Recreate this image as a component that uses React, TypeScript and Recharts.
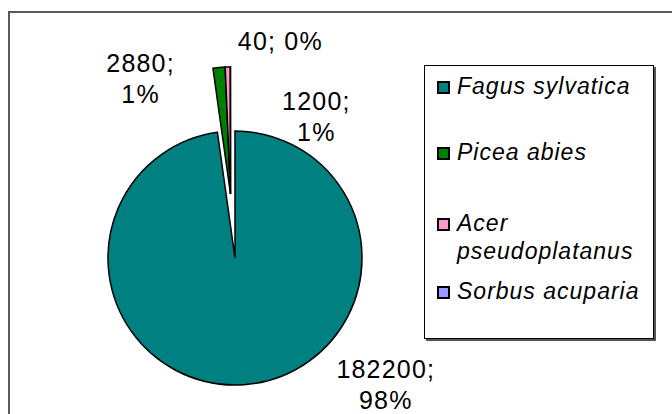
import { Cell, Legend, Pie, PieChart } from "recharts";

const species = ["Fagus sylvatica", "Picea abies", "Acer pseudoplatanus", "Sorbus acuparia"];
const volumes = [182200, 2880, 1200, 40];
const percentLabels = ["98%", "1%", "1%", "0%"];
const colors = ["#008080", "#008000", "#FF99CC", "#9999FF"];

const data = species.map((name, i) => ({ name, value: volumes[i], pct: percentLabels[i] }));

// label placement in polar form around each pie's centre (degrees, radius factor)
const labelPlacement = [
  { angle: -40, r: 1.55, lines: 2 },
  { angle: 128, r: 1.15, lines: 2 },
  { angle: 42, r: 0.91, lines: 2 },
  { angle: 72, r: 1.27, lines: 1 },
];

const legendRows = [22, 88, 159, 227];

const FONT = '"Liberation Sans", Arial, sans-serif';
const RADIAN = Math.PI / 180;
const LINE_H = 31;

function makeLabel(visible: (i: number) => boolean) {
  return (props: any) => {
    const { cx, cy, outerRadius, index, value, payload } = props;
    if (!visible(index)) return <g />;
    const p = labelPlacement[index];
    const x = cx + outerRadius * p.r * Math.cos(p.angle * RADIAN);
    const y = cy - outerRadius * p.r * Math.sin(p.angle * RADIAN);
    const pct = payload?.pct ?? percentLabels[index];
    const common = {
      fill: "#000",
      fontSize: 25,
      fontFamily: FONT,
      letterSpacing: 1.2,
      textAnchor: "middle" as const,
      dominantBaseline: "central" as const,
    };
    if (p.lines === 1) {
      return (
        <text x={x} y={y} {...common}>
          {`${value}; ${pct}`}
        </text>
      );
    }
    return (
      <text x={x} y={y} {...common}>
        <tspan x={x} dy={-LINE_H / 2}>{`${value};`}</tspan>
        <tspan x={x} dy={LINE_H}>{pct}</tspan>
      </text>
    );
  };
}

function LegendBox() {
  return (
    <div
      style={{
        position: "relative",
        width: 228,
        height: 272,
        border: "1px solid #000",
        boxShadow: "2px 2px 0 #555",
        background: "#fff",
        fontFamily: FONT,
        fontStyle: "italic",
        fontSize: 23,
        letterSpacing: 1,
        color: "#000",
      }}
    >
      {species.map((name, i) => {
        const words = i === 2 ? ["Acer", "pseudoplatanus"] : [name];
        return (
          <div key={name} style={{ position: "absolute", left: 0, top: legendRows[i] - LINE_H / 2 - 1 }}>
            <div
              style={{
                position: "absolute",
                left: 12,
                top: 9,
                width: 9,
                height: 9,
                background: colors[i],
                border: "2px solid #000",
              }}
            />
            <div style={{ position: "absolute", left: 32, top: 0, lineHeight: `${LINE_H - 3}px`, whiteSpace: "nowrap" }}>
              {words.map((w) => (
                <div key={w}>{w}</div>
              ))}
            </div>
          </div>
        );
      })}
    </div>
  );
}

export default function App() {
  return (
    <div
      style={{
        position: "absolute",
        left: 0,
        top: 0,
        width: 672,
        height: 414,
        overflow: "hidden",
        background: "#fff",
      }}
    >
      <div
        style={{
          position: "absolute",
          left: 8,
          top: 11,
          width: 700,
          height: 450,
          borderLeft: "2px solid #595959",
          borderTop: "2px solid #595959",
        }}
      />
      <div style={{ position: "absolute", left: 0, top: 0 }}>
        <PieChart width={672} height={414} margin={{ top: 0, right: 0, bottom: 0, left: 0 }}>
          <Pie
            data={data}
            dataKey="value"
            nameKey="name"
            cx={235}
            cy={258}
            outerRadius={127}
            startAngle={90}
            endAngle={-270}
            isAnimationActive={false}
            labelLine={false}
            label={makeLabel((i) => i === 0)}
          >
            {data.map((d, i) => (
              <Cell
                key={d.name}
                fill={i === 0 ? colors[i] : "none"}
                stroke={i === 0 ? "#000" : "none"}
                strokeWidth={1.5}
              />
            ))}
          </Pie>
          <Pie
            data={data}
            dataKey="value"
            nameKey="name"
            cx={230.5}
            cy={194}
            outerRadius={127}
            startAngle={90}
            endAngle={-270}
            isAnimationActive={false}
            labelLine={false}
            label={makeLabel((i) => i !== 0)}
          >
            {data.map((d, i) => (
              <Cell
                key={d.name}
                fill={i === 0 ? "none" : colors[i]}
                stroke={i === 0 ? "none" : "#000"}
                strokeWidth={1.5}
              />
            ))}
          </Pie>
          <Legend
            layout="vertical"
            align="right"
            verticalAlign="top"
            content={() => <LegendBox />}
            wrapperStyle={{ left: 424, top: 65, width: 231, height: 275 }}
          />
        </PieChart>
      </div>
    </div>
  );
}
